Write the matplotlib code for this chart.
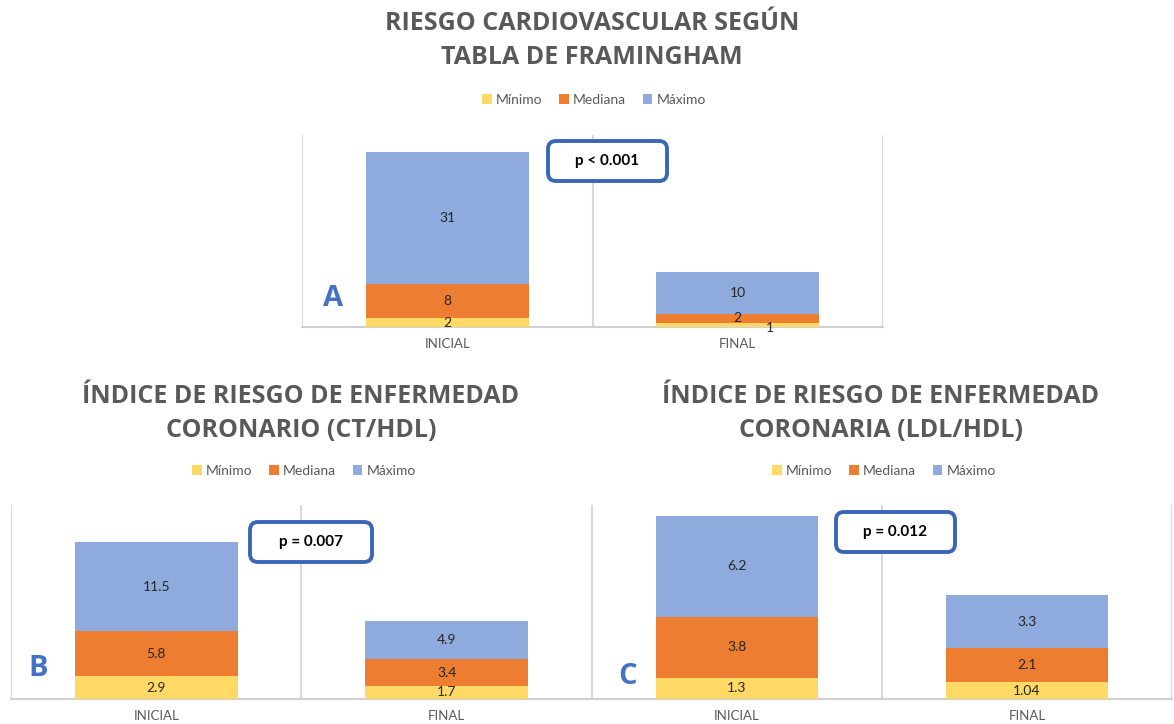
import matplotlib
matplotlib.use('Agg')
import matplotlib.pyplot as plt
from matplotlib.patches import Patch, FancyBboxPatch
from matplotlib.transforms import IdentityTransform

plt.rcParams['font.family'] = ['Lato', 'DejaVu Sans']

W, H = 1174, 724

categories = ['INICIAL', 'FINAL']
series = ['Mínimo', 'Mediana', 'Máximo']
colors = ['#FFD966', '#ED7D31', '#8FAADC']

# panel A: Framingham
a_min = [2, 1]
a_med = [8, 2]
a_max = [31, 10]
# panel B: CT/HDL
b_min = [2.9, 1.7]
b_med = [5.8, 3.4]
b_max = [11.5, 4.9]
# panel C: LDL/HDL
c_min = [1.3, 1.04]
c_med = [3.8, 2.1]
c_max = [6.2, 3.3]

fig = plt.figure(figsize=(W / 100, H / 100), dpi=100)
fig.patch.set_facecolor('white')

title_color = '#595959'
blue_txt = '#4472C4'


def panel(box, ymax, data, letter, letter_xy, pval, pbox, nudge=None):
    l, t, r, b = box
    ax = fig.add_axes([l / W, 1 - b / H, (r - l) / W, (b - t) / H])
    bottom = [0, 0]
    all_labels = []
    for vals, col in zip(data, colors):
        bars = ax.bar(range(len(categories)), vals, width=0.56, bottom=bottom,
                      color=col, zorder=3)
        txts = ax.bar_label(bars, labels=['%g' % v for v in vals], label_type='center',
                            fontsize=10, color='#262626', zorder=4)
        all_labels.append(txts)
        bottom = [bo + v for bo, v in zip(bottom, vals)]
    # Excel pushes a crowded label sideways
    if nudge:
        (si, ci), (dx, dy) = nudge
        all_labels[si][ci].xyann = (dx, dy)
    ax.set_xlim(-0.5, 1.5)
    ax.set_ylim(0, ymax)
    for xv in [-0.5, 0.5, 1.5]:
        ax.axvline(xv, color='#d9d9d9', lw=1.5, zorder=1)
    for s in ['top', 'right', 'left']:
        ax.spines[s].set_visible(False)
    ax.spines['bottom'].set_color('#d0d0d0')
    ax.spines['bottom'].set_linewidth(1.5)
    ax.set_yticks([])
    ax.set_xticks(range(len(categories)))
    ax.set_xticklabels(categories, fontsize=9.5, color=title_color)
    ax.tick_params(axis='x', length=0, pad=8)
    fig.text(letter_xy[0] / W, 1 - letter_xy[1] / H, letter, fontsize=21,
             fontweight='bold', color=blue_txt, ha='center', va='center',
             family=['Open Sans', 'DejaVu Sans'])
    x0, y0, x1, y1 = pbox
    p = FancyBboxPatch((x0, H - y1), x1 - x0, y1 - y0,
                       boxstyle='round,pad=0,rounding_size=8',
                       transform=IdentityTransform(), facecolor='white',
                       edgecolor='#3A66B5', linewidth=2.8, zorder=10)
    fig.patches.append(p)
    fig.text((x0 + x1) / 2 / W, 1 - (y0 + y1) / 2 / H, pval, fontsize=11,
             fontweight='bold', color='black', ha='center', va='center', zorder=11)
    return ax


def title(lines, cx, ys):
    for line, y in zip(lines, ys):
        fig.text(cx / W, 1 - y / H, line, fontsize=18, fontweight='bold',
                 color=title_color, ha='center', va='center',
                 family=['Open Sans', 'DejaVu Sans'])


def legend(cx, cy):
    handles = [Patch(facecolor=c, edgecolor='none') for c in colors]
    fig.legend(handles, series, loc='center', bbox_to_anchor=(cx / W, 1 - cy / H),
               ncol=3, frameon=False, fontsize=10, labelcolor=title_color,
               handlelength=0.7, handleheight=0.7, handletextpad=0.3,
               columnspacing=1.2)


title(['RIESGO CARDIOVASCULAR SEGÚN', 'TABLA DE FRAMINGHAM'], 592, [23, 58])
legend(594, 100)
panel((302, 135, 883, 327), 45, [a_min, a_med, a_max], 'A', (333, 298),
      'p < 0.001', (548, 141, 667, 181), nudge=((0, 1), (23, -2)))

title(['ÍNDICE DE RIESGO DE ENFERMEDAD', 'CORONARIO (CT/HDL)'], 301, [396, 431])
legend(304, 471)
panel((11, 505, 592, 699), 25, [b_min, b_med, b_max], 'B', (38, 669),
      'p = 0.007', (250, 522, 372, 562))

title(['ÍNDICE DE RIESGO DE ENFERMEDAD', 'CORONARIA (LDL/HDL)'], 881, [396, 431])
legend(884, 471)
panel((592, 505, 1172, 699), 12, [c_min, c_med, c_max], 'C', (628, 677),
      'p = 0.012', (836, 512, 955, 552))

fig.savefig('out.png', dpi=100)
